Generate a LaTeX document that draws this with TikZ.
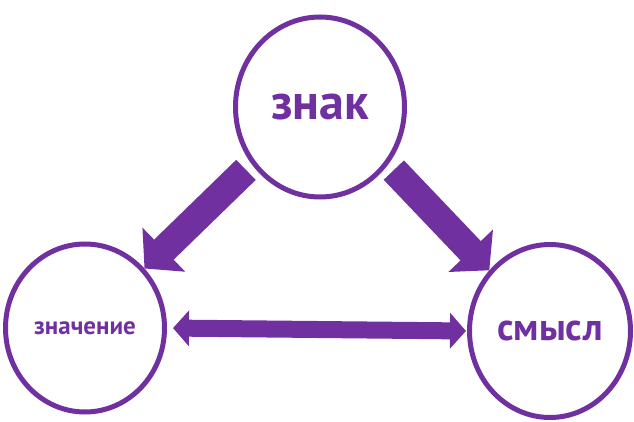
\documentclass[tikz,border=0pt]{standalone}
\usepackage{fontspec}
\setmainfont{PT Sans}
\usepackage{tikz}
\usetikzlibrary{shapes.geometric,arrows.meta}
\definecolor{purp}{HTML}{7030A0}

\begin{document}
\begin{tikzpicture}[
    x=1pt, y=-1pt,
    ring/.style={ellipse, draw=purp, line width=5pt, inner sep=0pt,
      text=purp, font=\bfseries},
    bigarrow/.style={draw=purp, line width=28pt,
      -{Triangle[length=27pt,width=60pt]}, shorten <=8pt},
    midarrow/.style={draw=purp, line width=17pt,
      {Triangle[length=16pt,width=35pt]}-{Triangle[length=16pt,width=35pt]},
      shorten <=6pt, shorten >=1pt},
  ]
  \useasboundingbox (0,0) rectangle (634,422);
  \node (znak)[ring, minimum width=169pt, minimum height=180pt,
    font=\bfseries\fontsize{50}{56}\selectfont] at (320,107) {знак};
  \node (znach)[ring, minimum width=159pt, minimum height=168pt,
    font=\bfseries\fontsize{25}{29}\selectfont] at (85,328) {значение};
  \node (smysl)[ring, minimum width=161pt, minimum height=173pt,
    font=\bfseries\fontsize{38}{43}\selectfont] at (550,331) {смысл};
  \draw[bigarrow] (znak.220) -- (znach.45);
  \draw[bigarrow] (znak.320) -- (smysl.135);
  \draw[midarrow] (znach.east) -- (smysl.west);
\end{tikzpicture}
\end{document}
